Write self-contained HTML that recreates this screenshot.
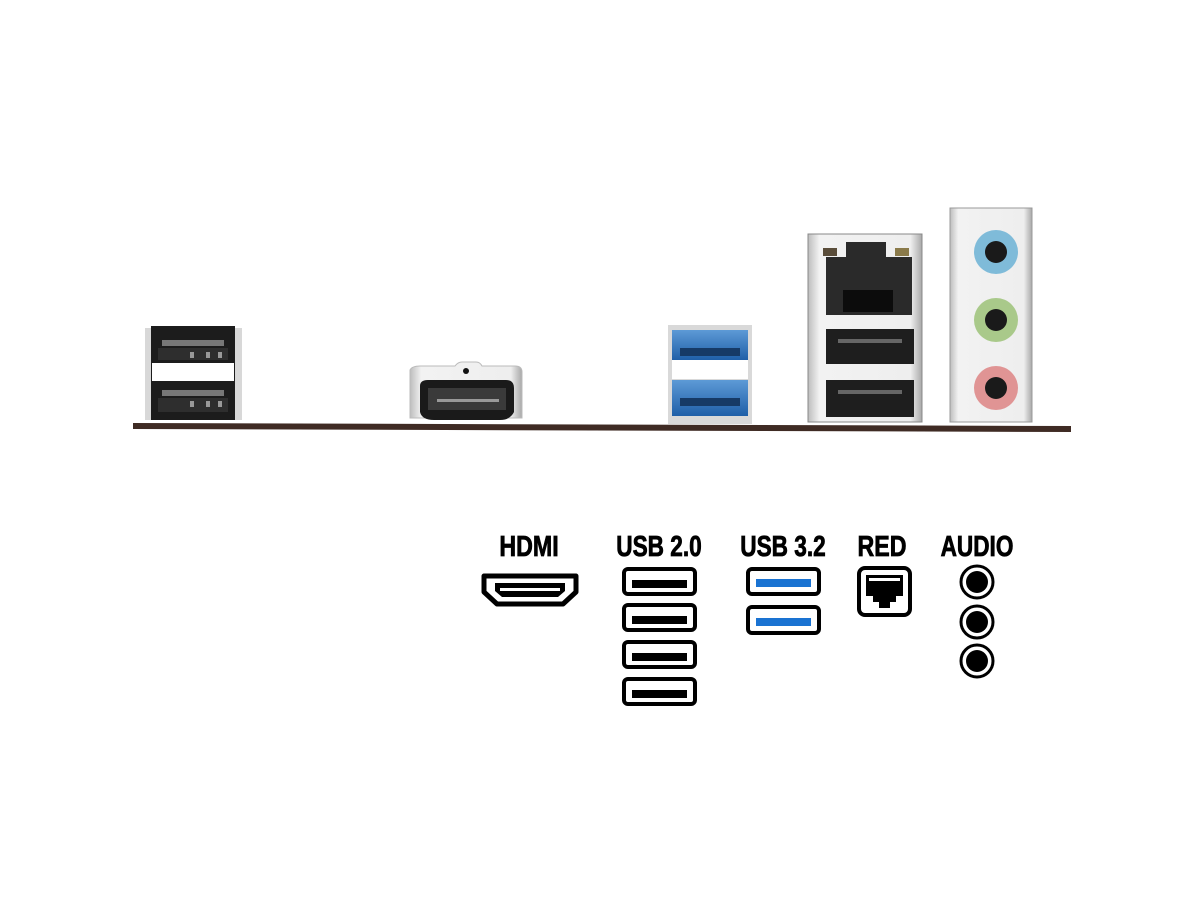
<!DOCTYPE html>
<html><head><meta charset="utf-8"><style>
html,body{margin:0;padding:0;background:#fff;width:1200px;height:900px;overflow:hidden}
svg text{font-family:"Liberation Sans",sans-serif;font-weight:bold}
</style></head><body>
<svg width="1200" height="900" viewBox="0 0 1200 900" xmlns="http://www.w3.org/2000/svg">
<defs>
<linearGradient id="met" x1="0" x2="1"><stop offset="0" stop-color="#bdbdbd"/><stop offset=".1" stop-color="#f2f2f2"/><stop offset=".9" stop-color="#eeeeee"/><stop offset="1" stop-color="#a8a8a8"/></linearGradient>
<linearGradient id="blue" x1="0" y1="0" x2="0" y2="1"><stop offset="0" stop-color="#5d9ad6"/><stop offset="1" stop-color="#1f5fa8"/></linearGradient>
</defs>
<polygon points="133,423 1071,426 1071,432 133,429" fill="#3f2b24"/>

<rect x="145" y="328" width="97" height="92" fill="#d8d8d8"/>
<rect x="151" y="326" width="84" height="94" fill="#1c1c1c"/>
<rect x="162" y="340" width="62" height="6" fill="#777"/>
<rect x="158" y="348" width="70" height="12" fill="#2e2e2e"/>
<rect x="152" y="363" width="82" height="18" fill="#fff"/>
<rect x="162" y="390" width="62" height="6" fill="#777"/>
<rect x="158" y="398" width="70" height="14" fill="#2e2e2e"/>
<g fill="#999"><rect x="190" y="352" width="4" height="6"/><rect x="206" y="352" width="4" height="6"/><rect x="218" y="352" width="4" height="6"/><rect x="190" y="401" width="4" height="6"/><rect x="206" y="401" width="4" height="6"/><rect x="218" y="401" width="4" height="6"/></g>

<path d="M410,370 Q412,366 420,366 L455,366 Q458,362 462,362 L476,362 Q480,362 482,366 L515,366 Q522,366 522,372 L522,418 L410,418 Z" fill="url(#met)" stroke="#bbb"/>
<circle cx="466" cy="371" r="3" fill="#111"/>
<path d="M420,386 Q420,380 428,380 L506,380 Q514,380 514,388 L514,412 Q510,420 500,420 L434,420 Q422,420 420,412 Z" fill="#1a1a1a"/>
<path d="M428,388 L506,388 L506,410 L428,410 Z" fill="#3a3a3a"/>
<rect x="437" y="399" width="62" height="3" fill="#999"/>

<rect x="668" y="325" width="84" height="99" fill="#d9d9d9"/>
<rect x="672" y="330" width="76" height="30" fill="url(#blue)"/>
<rect x="672" y="360" width="76" height="19" fill="#fff"/>
<rect x="672" y="380" width="76" height="36" fill="url(#blue)"/>
<rect x="680" y="348" width="60" height="8" fill="#163a66"/>
<rect x="680" y="398" width="60" height="8" fill="#163a66"/>

<rect x="808" y="234" width="114" height="188" fill="url(#met)" stroke="#888"/>
<rect x="826" y="257" width="86" height="58" fill="#2a2a2a"/>
<rect x="846" y="242" width="40" height="22" fill="#2a2a2a"/>
<rect x="823" y="248" width="14" height="8" fill="#5a4d3a"/>
<rect x="895" y="248" width="14" height="8" fill="#8a7a4a"/>
<rect x="843" y="290" width="50" height="22" fill="#0c0c0c"/>
<rect x="826" y="329" width="88" height="35" fill="#1e1e1e"/>
<rect x="838" y="339" width="64" height="4" fill="#666"/>
<rect x="826" y="380" width="88" height="37" fill="#1e1e1e"/>
<rect x="838" y="390" width="64" height="4" fill="#666"/>

<rect x="950" y="208" width="82" height="214" fill="url(#met)" stroke="#999"/>
<circle cx="996" cy="252" r="22" fill="#7fbbd9"/><circle cx="996" cy="252" r="11" fill="#1a1a1a"/>
<circle cx="996" cy="320" r="22" fill="#a9c98a"/><circle cx="996" cy="320" r="11" fill="#1a1a1a"/>
<circle cx="996" cy="388" r="22" fill="#e09494"/><circle cx="996" cy="388" r="11" fill="#1a1a1a"/>

<g font-size="29" text-anchor="middle" fill="#000" stroke="#000" stroke-width="0.8">
<text transform="translate(529,556) scale(0.8,1)">HDMI</text>
<text transform="translate(659,556) scale(0.78,1)">USB 2.0</text>
<text transform="translate(783,556) scale(0.78,1)">USB 3.2</text>
<text transform="translate(882,556) scale(0.8,1)">RED</text>
<text transform="translate(977,556) scale(0.78,1)">AUDIO</text>
</g>

<path d="M484,576 L576,576 L576,592 L563,604 L497,604 L484,592 Z" fill="#fff" stroke="#000" stroke-width="5" stroke-linejoin="round"/>
<path d="M495,583 L565,583 L565,591 L558,597 L502,597 L495,591 Z" fill="#000"/>
<rect x="500" y="588" width="60" height="3" fill="#fff"/>

<g fill="#fff" stroke="#000" stroke-width="4">
<rect x="624" y="569" width="71" height="25" rx="4"/>
<rect x="624" y="605" width="71" height="25" rx="4"/>
<rect x="624" y="642" width="71" height="25" rx="4"/>
<rect x="624" y="679" width="71" height="25" rx="4"/>
<rect x="748" y="569" width="71" height="25" rx="4"/>
<rect x="748" y="607" width="71" height="26" rx="4"/>
<rect x="859" y="568" width="51" height="47" rx="6"/>
</g>
<g fill="#000">
<rect x="632" y="580" width="55" height="8"/>
<rect x="632" y="616" width="55" height="8"/>
<rect x="632" y="653" width="55" height="8"/>
<rect x="632" y="690" width="55" height="8"/>
<path d="M866,575 L903,575 L903,596 L896,596 L896,602 L890,602 L890,608 L879,608 L879,602 L873,602 L873,596 L866,596 Z"/>
</g>
<rect x="869" y="578" width="31" height="3" fill="#fff"/>
<g fill="#1a73d2">
<rect x="756" y="579" width="55" height="8"/>
<rect x="756" y="618" width="55" height="8"/>
</g>

<g fill="#fff" stroke="#000" stroke-width="3">
<circle cx="977" cy="582" r="16"/><circle cx="977" cy="622" r="16"/><circle cx="977" cy="661" r="16"/>
</g>
<g fill="#000"><circle cx="977" cy="582" r="11"/><circle cx="977" cy="622" r="11"/><circle cx="977" cy="661" r="11"/></g>
</svg>
</body></html>
